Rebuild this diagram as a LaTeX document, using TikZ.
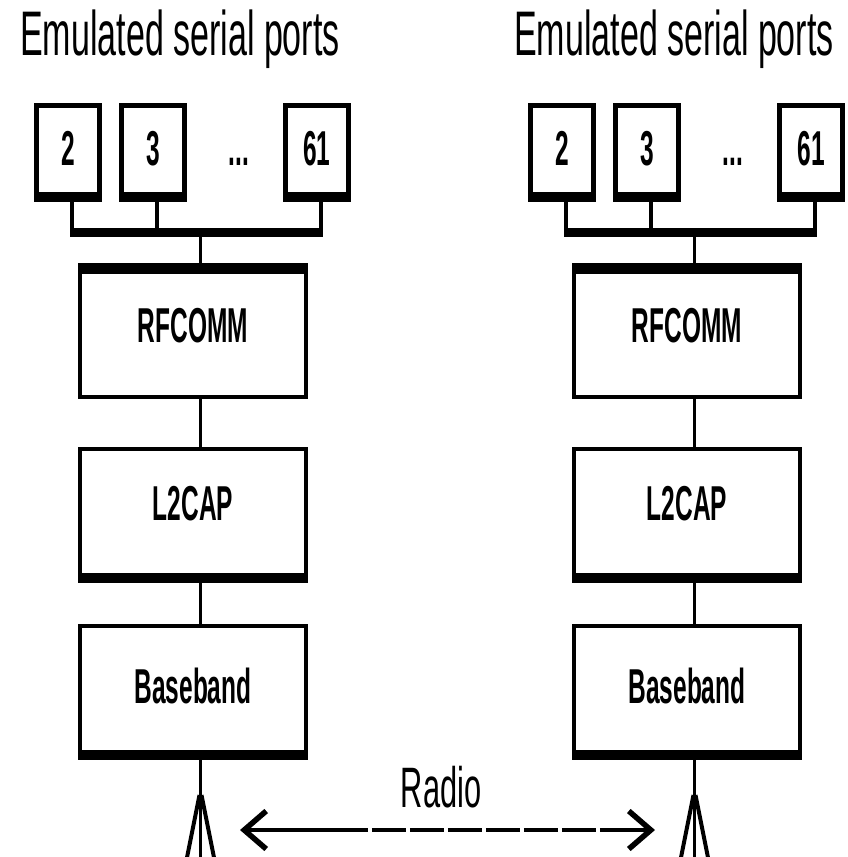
\documentclass[tikz,border=0pt]{standalone}
\usepackage{fontspec}
\setmainfont{Liberation Sans}
\newfontfamily\narrowfont[FakeStretch=0.5]{Liberation Sans}
\newfontfamily\titlefont[FakeStretch=0.54]{Liberation Sans}
\usetikzlibrary{arrows.meta}

\begin{document}
\begin{tikzpicture}[x=1pt, y=-1pt,
	layer/.style={draw, line width=4pt, outer sep=2pt, inner sep=0pt,
		minimum width=226pt, minimum height=132pt,
		font=\narrowfont\bfseries\fontsize{49}{49}\selectfont,
		text height=35pt, text depth=13pt},
	port/.style={draw, line width=5pt, outer sep=2.5pt, inner sep=0pt,
		minimum width=63pt, minimum height=94pt,
		font=\narrowfont\bfseries\fontsize{49}{49}\selectfont,
		text height=35pt, text depth=10pt},
	link/.style={line width=3.5pt},
	drop/.style={line width=4pt},
	bus/.style={line width=9pt},
	leg/.style={line width=4pt},
	radio/.style={line width=4pt,
		{Straight Barb[length=22pt,width=38pt,line width=5.5pt]}-{Straight Barb[length=22pt,width=38pt,line width=5.5pt]},
		dash pattern=on 121pt off 4pt on 34pt off 4pt on 34pt off 4pt on 34pt off 4pt
			on 34pt off 4pt on 34pt off 4pt on 34pt off 4pt on 80pt off 4pt}]

	\useasboundingbox (0,0) rectangle (848,857);

	\def\protoStack#1#2{
		\node[anchor=base, font=\titlefont\fontsize{63}{63}\selectfont] (title#2) at (#1+180,55) {Emulated serial ports};
		% ports
		\node[port] (p2#2) at (#1+68,152.5) {2};
		\node[port] (p3#2) at (#1+153,152.5) {3};
		\node[port] (p61#2) at (#1+317,152.5) {61};
		\node[anchor=base, font=\narrowfont\bfseries\fontsize{49}{49}\selectfont] (dots#2) at (#1+239,165) {...};
		\fill (p2#2.south west) rectangle ([yshift=10pt]p2#2.south east);
		\fill (p3#2.south west) rectangle ([yshift=10pt]p3#2.south east);
		\fill (p61#2.south west) rectangle ([yshift=10pt]p61#2.south east);
		% layers
		\node[layer] (rf#2) at (#1+193,331) {RFCOMM};
		\node[layer, text depth=24pt] (l2#2) at (#1+193,514.5) {L2CAP};
		\node[layer] (bb#2) at (#1+193,692) {Baseband};
		\fill (rf#2.north west) rectangle ([yshift=-11pt]rf#2.north east);
		\fill (l2#2.south west) rectangle ([yshift=10pt]l2#2.south east);
		\fill (bb#2.south west) rectangle ([yshift=10pt]bb#2.south east);
		% bus
		\coordinate (bus#2) at (#1+200.5,232.5);
		\draw[drop] ([xshift=4pt]p2#2.south) -- ([xshift=4pt]p2#2.south |- bus#2);
		\draw[drop] ([xshift=4pt]p3#2.south) -- ([xshift=4pt]p3#2.south |- bus#2);
		\draw[drop] ([xshift=4pt]p61#2.south) -- ([xshift=4pt]p61#2.south |- bus#2);
		\draw[bus] ([xshift=2pt]p2#2.south |- bus#2) -- ([xshift=6pt]p61#2.south |- bus#2);
		\draw[link] (bus#2) -- ([xshift=7.5pt]rf#2.north);
		\draw[link] ([xshift=7.5pt]rf#2.south) -- ([xshift=7.5pt]l2#2.north);
		\draw[link] ([xshift=7.5pt]l2#2.south) -- ([xshift=7.5pt]bb#2.north);
		% antenna
		\coordinate (ant#2) at (#1+200.5,860);
		\draw[link] ([xshift=7.5pt]bb#2.south) -- (ant#2);
		\draw[leg] ([xshift=-1pt,yshift=65pt]ant#2) -- ([xshift=-14pt]ant#2);
		\draw[leg] ([xshift=1pt,yshift=65pt]ant#2) -- ([xshift=14pt]ant#2);
	}

	\protoStack{0}{L}
	\protoStack{494}{R}

	\coordinate (radioL) at (240,830);
	\coordinate (radioR) at (655,830);
	\draw[radio] (radioL) -- (radioR);
	\node[anchor=base, font=\titlefont\fontsize{57}{57}\selectfont] (radio) at (441,807) {Radio};

\end{tikzpicture}
\end{document}
